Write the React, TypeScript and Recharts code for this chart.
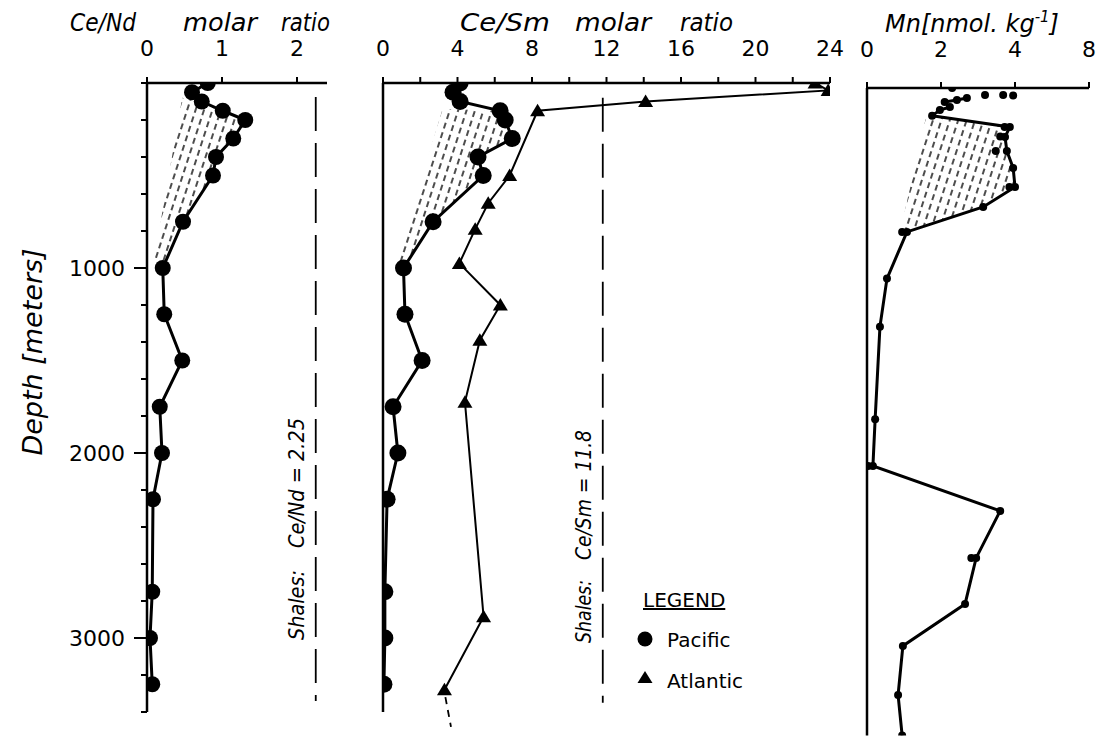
import React from 'react';
import { ScatterChart, Scatter, XAxis, YAxis, ReferenceLine } from 'recharts';

// depth axis, metres
const depthTicks = [0, 200, 400, 600, 800, 1000, 1200, 1400, 1600, 1800, 2000, 2200, 2400, 2600, 2800, 3000, 3200, 3400];

const ceNdTicks = [0, 1, 2];
const ceSmTicks = [0, 2, 4, 6, 8, 10, 12, 14, 16, 18, 20, 22, 24];
const mnTicks = [0, 2, 4, 6];
const mnTickLabels = ['0', '2', '4', '8'];

// Pacific profile (circles)
const pacificDepths = [0, 50, 100, 150, 200, 300, 400, 500, 750, 1000, 1250, 1500, 1750, 2000, 2250, 2750, 3000, 3250];
const pacificCeNd = [0.81, 0.6, 0.73, 1.01, 1.31, 1.15, 0.92, 0.88, 0.48, 0.21, 0.23, 0.47, 0.17, 0.2, 0.08, 0.07, 0.04, 0.07];
const pacificCeSm = [4.14, 3.76, 4.14, 6.29, 6.56, 6.94, 5.1, 5.38, 2.69, 1.1, 1.18, 2.1, 0.54, 0.8, 0.22, 0.1, 0.1, 0.05];

// Atlantic profile (triangles)
const atlanticDepths = [0, 40, 100, 150, 500, 650, 790, 975, 1200, 1390, 1725, 2885, 3280];
const atlanticCeSm = [23.2, 23.9, 14.1, 8.3, 6.8, 5.65, 4.95, 4.1, 6.3, 5.2, 4.4, 5.4, 3.3];

// Mn profile
const mnDepths = [54, 65, 76, 103, 119, 150, 211, 265, 340, 432, 535, 643, 778, 1030, 1290, 1790, 2043, 2286, 2540, 2789, 3016, 3281, 3500];
const mnValues = [2.7, 2.43, 2.1, 2.24, 1.97, 1.76, 3.86, 3.73, 3.78, 3.95, 4.0, 3.14, 1.08, 0.54, 0.35, 0.22, 0.16, 3.6, 2.95, 2.65, 0.97, 0.84, 0.95];
const mnLooseDepths = [0, 38, 38, 40, 211, 262, 340, 535, 778, 2043, 2540];
const mnLooseValues = [2.3, 3.19, 3.68, 3.95, 3.72, 3.6, 3.48, 3.85, 0.95, 0.03, 2.82];

// hatched envelopes
const ceNdHatchDepths = [80, 100, 150, 200, 300, 400, 500, 750, 1000, 940];
const ceNdHatchValues = [0.47, 0.73, 1.01, 1.31, 1.15, 0.92, 0.88, 0.48, 0.21, 0.1];
const ceSmHatchDepths = [140, 150, 200, 300, 400, 500, 750, 1000, 960];
const ceSmHatchValues = [3.2, 6.29, 6.56, 6.94, 5.1, 5.38, 2.69, 1.1, 0.75];
const mnHatchDepths = [170, 150, 211, 265, 340, 432, 535, 643, 778, 730];
const mnHatchValues = [1.58, 1.76, 3.86, 3.73, 3.78, 3.95, 4.0, 3.14, 1.08, 0.95];

const shaleCeNd = 2.25;
const shaleCeSm = 11.8;

const pts = (depths: number[], values: number[]) => depths.map((d, i) => ({ d, v: values[i] }));

const FONT = 'DejaVu Sans';
const axisFont = { fill: '#000', fontSize: 22, fontFamily: FONT };
const axisLine = { stroke: '#000', strokeWidth: 2.5 };
const tickLine = { stroke: '#000', strokeWidth: 2 };
const noShape = () => <g />;

const circle = (r: number) => (p: any) => <circle cx={p.cx} cy={p.cy} r={r} fill="#000" />;
const triangle = (p: any) => (
  <path d={`M${p.cx},${p.cy - 7} L${p.cx + 7.5},${p.cy + 5.5} L${p.cx - 7.5},${p.cy + 5.5} Z`} fill="#000" />
);

const Hatch = ({ id }: { id: string }) => (
  <defs>
    <pattern id={id} width="8" height="10" patternUnits="userSpaceOnUse" patternTransform="rotate(18)">
      <line x1="4" y1="1" x2="4" y2="7" stroke="#000" strokeWidth="1.4" />
    </pattern>
  </defs>
);

// labelled depth tick: longer tick mark for the thousands
const DepthTick = (p: any) => {
  const v = p.payload.value;
  const axisX = p.x + 6 + 16;
  if (!(v > 0 && v % 1000 === 0)) return <g />;
  return (
    <g>
      <line x1={axisX - 13} y1={p.y} x2={axisX} y2={p.y} stroke="#000" strokeWidth={2} />
      <text x={p.x} y={p.y} dy="0.36em" textAnchor="end" fontSize={22} fontFamily={FONT} fill="#000">{v}</text>
    </g>
  );
};

const DepthAxis = ({ labels, max }: { labels: boolean; max: number }) => (
  <YAxis
    type="number"
    dataKey="d"
    reversed
    domain={[0, max]}
    ticks={depthTicks}
    interval={0}
    allowDataOverflow
    width={labels ? 60 : 20}
    tickSize={6}
    tickMargin={16}
    axisLine={axisLine}
    tickLine={tickLine}
    tick={labels ? DepthTick : false}
  />
);

const Word = ({ x, y, w, children, size = 24 }: any) => (
  <text x={x} y={y} fontSize={size} fontStyle="italic" textLength={w} lengthAdjust="spacingAndGlyphs">{children}</text>
);

export default function App() {
  return (
    <div style={{ position: 'absolute', left: 0, top: 0, width: 1096, height: 738, background: '#fff' }}>
      <ScatterChart width={345} height={738} margin={{ top: 43, left: 87, right: 18, bottom: 26 }}
        style={{ position: 'absolute', left: 0, top: 0 }}>
        <Hatch id="hatch1" />
        <XAxis type="number" dataKey="v" orientation="top" domain={[0, 2.4]} ticks={ceNdTicks} interval={0}
          allowDataOverflow height={40} tickSize={6} tickMargin={21} axisLine={axisLine} tickLine={tickLine} tick={axisFont} />
        <DepthAxis labels max={3400} />
        <ReferenceLine segment={[{ x: shaleCeNd, y: 75 }, { x: shaleCeNd, y: 3340 }]} stroke="#000" strokeWidth={1.8} strokeDasharray="34 12" />
        <Scatter data={pts(ceNdHatchDepths, ceNdHatchValues)} line={{ stroke: 'none', fill: 'url(#hatch1)' }} shape={noShape} isAnimationActive={false} />
        <Scatter data={pts(pacificDepths, pacificCeNd)} line={{ stroke: '#000', strokeWidth: 3 }} shape={circle(8)} isAnimationActive={false} />
      </ScatterChart>

      <ScatterChart width={520} height={738} margin={{ top: 43, left: 33, right: 20, bottom: 26 }}
        style={{ position: 'absolute', left: 330, top: 0 }}>
        <Hatch id="hatch2" />
        <XAxis type="number" dataKey="v" orientation="top" domain={[0, 24]} ticks={ceSmTicks} interval={0}
          allowDataOverflow height={40} tickSize={6} tickMargin={21} axisLine={axisLine} tickLine={tickLine} tick={axisFont}
          tickFormatter={(v: number) => (v % 4 === 0 ? String(v) : '')} />
        <DepthAxis labels={false} max={3400} />
        <ReferenceLine segment={[{ x: shaleCeSm, y: 80 }, { x: shaleCeSm, y: 3350 }]} stroke="#000" strokeWidth={1.8} strokeDasharray="34 12" />
        <ReferenceLine segment={[{ x: 3.35, y: 3320 }, { x: 3.65, y: 3480 }]} ifOverflow="visible" stroke="#000" strokeWidth={1.8} strokeDasharray="7 6" />
        <Scatter data={pts(ceSmHatchDepths, ceSmHatchValues)} line={{ stroke: 'none', fill: 'url(#hatch2)' }} shape={noShape} isAnimationActive={false} />
        <Scatter data={pts(atlanticDepths, atlanticCeSm)} line={{ stroke: '#000', strokeWidth: 2 }} shape={triangle} isAnimationActive={false} />
        <Scatter data={pts(pacificDepths, pacificCeSm)} line={{ stroke: '#000', strokeWidth: 3 }} shape={circle(8.5)} isAnimationActive={false} />
      </ScatterChart>

      <ScatterChart width={256} height={733} margin={{ top: 43, left: 7, right: 7, bottom: 2.5 }}
        style={{ position: 'absolute', left: 840, top: 5 }}>
        <Hatch id="hatch3" />
        <XAxis type="number" dataKey="v" orientation="top" domain={[0, 6]} ticks={mnTicks} interval={0}
          allowDataOverflow height={40} tickSize={6} tickMargin={25} axisLine={axisLine} tickLine={tickLine} tick={axisFont}
          tickFormatter={(v: number, i: number) => mnTickLabels[i]} />
        <DepthAxis labels={false} max={3500} />
        <Scatter data={pts(mnHatchDepths, mnHatchValues)} line={{ stroke: 'none', fill: 'url(#hatch3)' }} shape={noShape} isAnimationActive={false} />
        <Scatter data={pts(mnDepths, mnValues)} line={{ stroke: '#000', strokeWidth: 3 }} shape={circle(4)} isAnimationActive={false} />
        <Scatter data={pts(mnLooseDepths, mnLooseValues)} shape={circle(4)} isAnimationActive={false} />
      </ScatterChart>

      <svg width={1096} height={738} style={{ position: 'absolute', left: 0, top: 0, pointerEvents: 'none' }}
        fontFamily={FONT} fill="#000">
        <Word x={70} y={31} w={66}>Ce/Nd</Word>
        <Word x={183} y={31} w={74}>molar</Word>
        <Word x={281} y={31} w={49}>ratio</Word>
        <Word x={460} y={31} w={90}>Ce/Sm</Word>
        <Word x={575} y={31} w={76}>molar</Word>
        <Word x={680} y={31} w={53}>ratio</Word>
        <text x={885} y={32} fontSize={24} fontStyle="italic">
          Mn[nmol. kg<tspan dy={-10} fontSize={15}>-1</tspan><tspan dy={10}>]</tspan>
        </text>
        <text transform="translate(42,352) rotate(-90)" textAnchor="middle" fontSize={27} fontStyle="italic">Depth  [meters]</text>
        <g transform="translate(304,640) rotate(-90)">
          <Word x={0} y={0} w={70} size={21}>Shales:</Word>
          <Word x={92} y={0} w={130} size={21}>Ce/Nd = 2.25</Word>
        </g>
        <g transform="translate(591,643) rotate(-90)">
          <Word x={0} y={0} w={63} size={21}>Shales:</Word>
          <Word x={83} y={0} w={130} size={21}>Ce/Sm = 11.8</Word>
        </g>
        <text x={643} y={607} fontSize={20} textDecoration="underline">LEGEND</text>
        <circle cx={645} cy={639} r={7.5} />
        <text x={667} y={647} fontSize={20}>Pacific</text>
        <path d="M645,671 L652.5,683 L637.5,683 Z" />
        <text x={667} y={688} fontSize={20}>Atlantic</text>
      </svg>
    </div>
  );
}
